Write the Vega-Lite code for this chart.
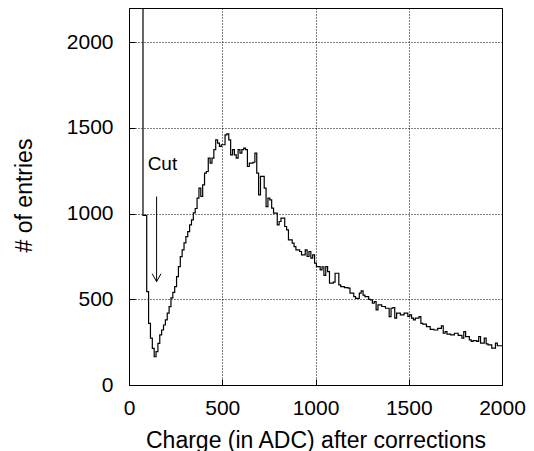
{
  "$schema": "https://vega.github.io/schema/vega-lite/v6.json",
  "width": 373,
  "height": 377,
  "autosize": {"type": "none"},
  "padding": {"left": 129, "top": 8, "right": 32, "bottom": 66},
  "background": "white",
  "config": {
    "view": {"stroke": "black", "strokeWidth": 1},
    "font": "Liberation Sans",
    "axis": {
      "labelFont": "Liberation Sans",
      "titleFont": "Liberation Sans",
      "labelFontSize": 21,
      "titleFontSize": 23,
      "labelColor": "black",
      "titleColor": "black",
      "titleFontWeight": "normal",
      "labelFontWeight": "normal",
      "format": "d",
      "domain": false,
      "ticks": true,
      "tickSize": -6,
      "tickColor": "black",
      "tickWidth": 1,
      "grid": true,
      "gridColor": "black",
      "gridDash": [1, 2],
      "gridWidth": 1,
      "gridOpacity": 1
    }
  },
  "datasets": {
    "hist": [
      {"charge": 75, "entries": 2400},
      {"charge": 75, "entries": 990},
      {"charge": 85, "entries": 990},
      {"charge": 95, "entries": 545},
      {"charge": 105, "entries": 360},
      {"charge": 115, "entries": 273},
      {"charge": 125, "entries": 214},
      {"charge": 135, "entries": 165},
      {"charge": 145, "entries": 195},
      {"charge": 155, "entries": 243},
      {"charge": 165, "entries": 292},
      {"charge": 175, "entries": 321},
      {"charge": 185, "entries": 350},
      {"charge": 195, "entries": 380},
      {"charge": 205, "entries": 420},
      {"charge": 215, "entries": 457},
      {"charge": 225, "entries": 508},
      {"charge": 235, "entries": 540},
      {"charge": 245, "entries": 574},
      {"charge": 255, "entries": 633},
      {"charge": 265, "entries": 691},
      {"charge": 275, "entries": 749},
      {"charge": 285, "entries": 789},
      {"charge": 295, "entries": 829},
      {"charge": 305, "entries": 866},
      {"charge": 315, "entries": 895},
      {"charge": 325, "entries": 935},
      {"charge": 335, "entries": 964},
      {"charge": 345, "entries": 1004},
      {"charge": 355, "entries": 1030},
      {"charge": 365, "entries": 1090},
      {"charge": 375, "entries": 1149},
      {"charge": 385, "entries": 1100},
      {"charge": 395, "entries": 1168},
      {"charge": 405, "entries": 1236},
      {"charge": 415, "entries": 1246},
      {"charge": 425, "entries": 1324},
      {"charge": 435, "entries": 1295},
      {"charge": 445, "entries": 1324},
      {"charge": 455, "entries": 1373},
      {"charge": 465, "entries": 1431},
      {"charge": 475, "entries": 1412},
      {"charge": 485, "entries": 1392},
      {"charge": 495, "entries": 1402},
      {"charge": 505, "entries": 1402},
      {"charge": 515, "entries": 1460},
      {"charge": 525, "entries": 1466},
      {"charge": 535, "entries": 1430},
      {"charge": 545, "entries": 1343},
      {"charge": 555, "entries": 1373},
      {"charge": 565, "entries": 1343},
      {"charge": 575, "entries": 1324},
      {"charge": 585, "entries": 1373},
      {"charge": 595, "entries": 1353},
      {"charge": 605, "entries": 1373},
      {"charge": 615, "entries": 1382},
      {"charge": 625, "entries": 1373},
      {"charge": 635, "entries": 1275},
      {"charge": 645, "entries": 1295},
      {"charge": 655, "entries": 1295},
      {"charge": 665, "entries": 1300},
      {"charge": 675, "entries": 1353},
      {"charge": 685, "entries": 1236},
      {"charge": 695, "entries": 1110},
      {"charge": 705, "entries": 1217},
      {"charge": 715, "entries": 1217},
      {"charge": 725, "entries": 1149},
      {"charge": 735, "entries": 1041},
      {"charge": 745, "entries": 1090},
      {"charge": 755, "entries": 1080},
      {"charge": 765, "entries": 1032},
      {"charge": 775, "entries": 1003},
      {"charge": 785, "entries": 1003},
      {"charge": 795, "entries": 935},
      {"charge": 805, "entries": 954},
      {"charge": 815, "entries": 974},
      {"charge": 825, "entries": 974},
      {"charge": 835, "entries": 925},
      {"charge": 845, "entries": 905},
      {"charge": 855, "entries": 847},
      {"charge": 865, "entries": 847},
      {"charge": 875, "entries": 828},
      {"charge": 885, "entries": 808},
      {"charge": 895, "entries": 789},
      {"charge": 905, "entries": 789},
      {"charge": 915, "entries": 779},
      {"charge": 925, "entries": 759},
      {"charge": 935, "entries": 759},
      {"charge": 945, "entries": 789},
      {"charge": 955, "entries": 750},
      {"charge": 965, "entries": 779},
      {"charge": 975, "entries": 740},
      {"charge": 985, "entries": 759},
      {"charge": 995, "entries": 711},
      {"charge": 1005, "entries": 691},
      {"charge": 1015, "entries": 691},
      {"charge": 1025, "entries": 672},
      {"charge": 1035, "entries": 690},
      {"charge": 1045, "entries": 640},
      {"charge": 1055, "entries": 691},
      {"charge": 1065, "entries": 662},
      {"charge": 1075, "entries": 594},
      {"charge": 1085, "entries": 594},
      {"charge": 1095, "entries": 600},
      {"charge": 1105, "entries": 652},
      {"charge": 1115, "entries": 652},
      {"charge": 1125, "entries": 584},
      {"charge": 1135, "entries": 574},
      {"charge": 1145, "entries": 574},
      {"charge": 1155, "entries": 568},
      {"charge": 1165, "entries": 568},
      {"charge": 1175, "entries": 565},
      {"charge": 1185, "entries": 536},
      {"charge": 1195, "entries": 536},
      {"charge": 1205, "entries": 516},
      {"charge": 1215, "entries": 506},
      {"charge": 1225, "entries": 506},
      {"charge": 1235, "entries": 536},
      {"charge": 1245, "entries": 549},
      {"charge": 1255, "entries": 525},
      {"charge": 1265, "entries": 516},
      {"charge": 1275, "entries": 516},
      {"charge": 1285, "entries": 500},
      {"charge": 1295, "entries": 497},
      {"charge": 1305, "entries": 477},
      {"charge": 1315, "entries": 487},
      {"charge": 1325, "entries": 438},
      {"charge": 1335, "entries": 467},
      {"charge": 1345, "entries": 467},
      {"charge": 1355, "entries": 458},
      {"charge": 1365, "entries": 458},
      {"charge": 1375, "entries": 448},
      {"charge": 1385, "entries": 448},
      {"charge": 1395, "entries": 399},
      {"charge": 1405, "entries": 448},
      {"charge": 1415, "entries": 452},
      {"charge": 1425, "entries": 390},
      {"charge": 1435, "entries": 419},
      {"charge": 1445, "entries": 419},
      {"charge": 1455, "entries": 409},
      {"charge": 1465, "entries": 409},
      {"charge": 1475, "entries": 419},
      {"charge": 1485, "entries": 419},
      {"charge": 1495, "entries": 400},
      {"charge": 1505, "entries": 409},
      {"charge": 1515, "entries": 390},
      {"charge": 1525, "entries": 380},
      {"charge": 1535, "entries": 390},
      {"charge": 1545, "entries": 390},
      {"charge": 1555, "entries": 399},
      {"charge": 1565, "entries": 360},
      {"charge": 1575, "entries": 355},
      {"charge": 1585, "entries": 355},
      {"charge": 1595, "entries": 341},
      {"charge": 1605, "entries": 341},
      {"charge": 1615, "entries": 325},
      {"charge": 1625, "entries": 325},
      {"charge": 1635, "entries": 321},
      {"charge": 1645, "entries": 321},
      {"charge": 1655, "entries": 331},
      {"charge": 1665, "entries": 331},
      {"charge": 1675, "entries": 345},
      {"charge": 1685, "entries": 302},
      {"charge": 1695, "entries": 311},
      {"charge": 1705, "entries": 297},
      {"charge": 1715, "entries": 297},
      {"charge": 1725, "entries": 293},
      {"charge": 1735, "entries": 293},
      {"charge": 1745, "entries": 302},
      {"charge": 1755, "entries": 302},
      {"charge": 1765, "entries": 290},
      {"charge": 1775, "entries": 290},
      {"charge": 1785, "entries": 273},
      {"charge": 1795, "entries": 311},
      {"charge": 1805, "entries": 282},
      {"charge": 1815, "entries": 282},
      {"charge": 1825, "entries": 263},
      {"charge": 1835, "entries": 254},
      {"charge": 1845, "entries": 259},
      {"charge": 1855, "entries": 259},
      {"charge": 1865, "entries": 254},
      {"charge": 1875, "entries": 282},
      {"charge": 1885, "entries": 244},
      {"charge": 1895, "entries": 244},
      {"charge": 1905, "entries": 273},
      {"charge": 1915, "entries": 240},
      {"charge": 1925, "entries": 234},
      {"charge": 1935, "entries": 234},
      {"charge": 1945, "entries": 215},
      {"charge": 1955, "entries": 215},
      {"charge": 1965, "entries": 244},
      {"charge": 1975, "entries": 229},
      {"charge": 1985, "entries": 229},
      {"charge": 1995, "entries": 229},
      {"charge": 2005, "entries": 229}
    ],
    "label": [{"charge": 100, "entries": 1256, "text": "Cut"}],
    "arrow": [{"charge": 148, "entries": 1100, "end": 603}]
  },
  "layer": [
    {
      "data": {"name": "hist"},
      "mark": {"type": "line", "interpolate": "step-after", "color": "black", "strokeWidth": 1.2, "clip": true},
      "encoding": {
        "x": {
          "field": "charge", "type": "quantitative",
          "scale": {"domain": [0, 2000], "nice": false, "zero": false},
          "axis": {"values": [0, 500, 1000, 1500, 2000], "labelPadding": 18, "title": "Charge (in ADC) after corrections", "titleBaseline": "alphabetic", "titleY": 62, "labelFlush": false}
        },
        "y": {
          "field": "entries", "type": "quantitative",
          "scale": {"domain": [0, 2200], "nice": false},
          "axis": {"values": [0, 500, 1000, 1500, 2000], "labelPadding": 22, "title": "# of entries", "titleX": -105, "titleY": 187, "titleAngle": -90, "titleAlign": "center", "titleBaseline": "middle"}
        }
      }
    },
    {
      "data": {"name": "label"},
      "mark": {"type": "text", "align": "left", "baseline": "alphabetic", "font": "Liberation Sans", "fontSize": 19, "color": "black"},
      "encoding": {
        "x": {"field": "charge", "type": "quantitative"},
        "y": {"field": "entries", "type": "quantitative"},
        "text": {"field": "text"}
      }
    },
    {
      "data": {"name": "arrow"},
      "mark": {"type": "rule", "color": "black", "strokeWidth": 1},
      "encoding": {
        "x": {"field": "charge", "type": "quantitative"},
        "y": {"field": "entries", "type": "quantitative"},
        "y2": {"field": "end"}
      }
    },
    {
      "data": {"name": "arrow"},
      "mark": {"type": "point", "shape": "M-1.1,-2L0,0L1.1,-2", "size": 64, "filled": false, "stroke": "black", "strokeWidth": 1, "opacity": 1},
      "encoding": {
        "x": {"field": "charge", "type": "quantitative"},
        "y": {"field": "end", "type": "quantitative"}
      }
    }
  ]
}
